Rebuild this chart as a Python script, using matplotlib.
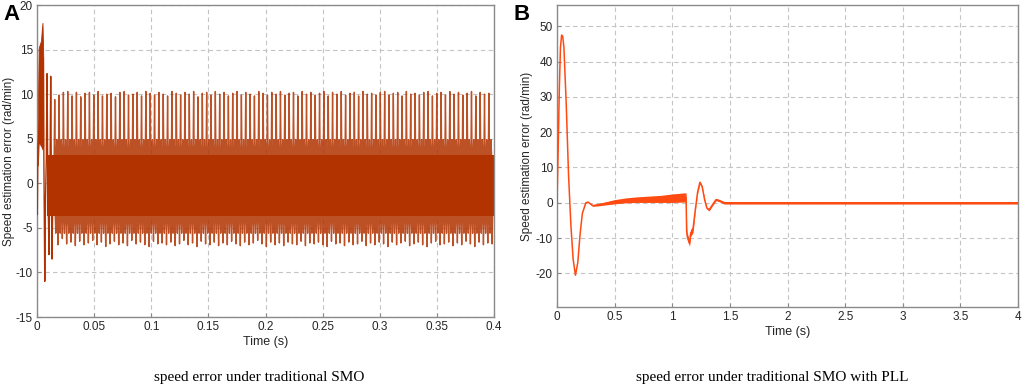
import numpy as np
import matplotlib
matplotlib.use("Agg")
import matplotlib.pyplot as plt

plt.rcParams["axes.unicode_minus"] = False

# ---- panel A: traditional SMO (speed estimation error, rad/min) ----
# start-up burst (dense band between these limits)
burst_t = [0.0008, 0.0015, 0.0025, 0.0035, 0.0042, 0.0048, 0.0055]
burst_hi = [9.0, 15.2, 15.6, 16.0, 17.2, 18.0, 14.0]
burst_lo = [2.0, 4.6, 4.4, 4.2, 4.0, 3.8, 4.2]

# isolated start-up spikes
early_t = [0.0, 0.0003, 0.0008, 0.0055, 0.0060, 0.0068, 0.0074, 0.0082, 0.0088, 0.0094,
           0.0100, 0.0105, 0.0110, 0.0115, 0.0120, 0.0125, 0.0131, 0.0137, 0.0145]
early_v = [0.0, -3.5, 4.0, 14.0, 3.0, -11.0, -2.0, 3.0, 12.3, 1.0,
           -4.0, -8.0, -2.0, 3.0, 12.0, 2.0, -8.5, -3.0, 3.0]

# steady oscillation: dense core band and periodic spikes
core_hi = 3.2
core_lo = -3.7
mid_hi = 4.9
mid_lo = -5.6
spike_start = 0.0155
spike_period = 0.0038

upper_peaks = [
    9.4, 9.9, 10.2, 10.3, 9.8, 10.2, 9.7, 10.1, 10.2, 9.9, 10.3, 9.8, 10.0,
    10.1, 9.7, 10.2, 10.3, 9.9, 10.0, 10.2, 9.8, 10.3, 10.1, 9.9, 10.2, 10.0,
    9.8, 10.3, 10.1, 9.9, 10.2, 10.0, 10.3, 9.7, 10.1, 10.2, 9.9, 10.3, 10.0,
    10.2, 9.8, 10.1, 10.3, 9.9, 10.2, 10.0, 9.8, 10.3, 10.1, 9.9, 10.2, 10.0,
    10.3, 9.9, 10.1, 10.2, 9.8, 10.3, 10.0, 10.2, 9.9, 10.1, 10.3, 9.8, 10.2,
    10.0, 10.3, 9.9, 10.1, 10.2, 9.8, 10.3, 10.0, 10.1, 9.9, 10.2, 10.3, 9.9,
    10.1, 10.2, 9.8, 10.3, 10.0, 10.1, 9.9, 10.2, 10.3, 9.8, 10.1, 10.2, 9.9,
    10.3, 10.0, 10.2, 9.9, 10.1, 10.3, 9.8, 10.2, 10.0, 10.1,
]
lower_peaks = [
    -6.9, -6.2, -6.8, -6.6, -7.0, -6.5, -6.9, -6.7, -6.4, -6.9, -6.6, -7.1, -6.8,
    -6.5, -6.9, -6.7, -7.0, -6.4, -6.8, -6.6, -6.9, -7.1, -6.5, -6.8, -6.7, -6.9,
    -6.6, -7.0, -6.8, -6.4, -6.9, -6.7, -7.1, -6.5, -6.8, -6.9, -6.6, -7.0, -6.7,
    -6.9, -6.5, -6.8, -7.0, -6.6, -6.9, -6.7, -6.4, -6.8, -7.1, -6.6, -6.9, -6.7,
    -7.0, -6.6, -6.8, -6.9, -6.5, -7.0, -6.7, -6.8, -6.6, -6.9, -7.1, -6.5, -6.8,
    -6.7, -7.0, -6.6, -6.9, -6.8, -6.5, -7.0, -6.7, -6.9, -6.6, -6.8, -7.1, -6.6,
    -6.9, -6.7, -6.5, -7.0, -6.8, -6.6, -6.9, -7.1, -6.7, -6.5, -6.9, -6.8, -6.6,
    -7.0, -6.7, -6.9, -6.5, -6.8, -7.1, -6.6, -6.9, -6.7, -6.8,
]

smo_xticks = [0, 0.05, 0.1, 0.15, 0.2, 0.25, 0.3, 0.35, 0.4]
smo_xlabels = ["0", "0.05", "0.1", "0.15", "0.2", "0.25", "0.3", "0.35", "0.4"]
smo_yticks = [-15, -10, -5, 0, 5, 10, 15, 20]

# ---- panel B: traditional SMO with PLL ----
pll_t = [0.0, 0.01, 0.02, 0.03, 0.04, 0.05, 0.06, 0.08, 0.10, 0.12, 0.14, 0.16,
         0.18, 0.20, 0.22, 0.25, 0.27, 0.31, 0.35, 0.40, 0.50, 0.60, 0.70, 0.80,
         0.90, 1.00, 1.10, 1.12, 1.125, 1.13, 1.15, 1.16, 1.18, 1.20, 1.22, 1.24,
         1.26, 1.28, 1.30, 1.32, 1.35, 1.38, 1.41, 1.45, 1.50, 2.0, 2.5, 3.0, 3.5, 4.0]
pll_v = [0.0, 15.0, 32.0, 44.0, 47.5, 47.0, 44.0, 28.0, 8.0, -6.0, -16.0, -20.5,
         -17.0, -9.0, -3.0, 0.0, 0.2, -0.8, -0.6, -0.3, 0.3, 0.7, 0.9, 1.0,
         1.1, 1.3, 1.5, 1.5, -8.0, -9.5, -11.5, -8.5, -7.5, -2.0, 3.0, 5.8,
         4.5, 1.0, -1.5, -2.0, -0.5, 0.9, 0.6, 0.0, 0.0, 0.0, 0.0, 0.0, 0.0, 0.0]
pll_noise = [0.0, 0.0, 0.0, 0.0, 0.0, 0.0, 0.0, 0.0, 0.0, 0.0, 0.0, 0.0,
             0.0, 0.0, 0.0, 0.1, 0.1, 0.2, 0.3, 0.4, 0.6, 0.7, 0.8, 0.9,
             1.0, 1.2, 1.3, 1.3, 1.0, 1.0, 0.8, 1.0, 1.0, 0.3, 0.3, 0.4,
             0.3, 0.3, 0.3, 0.3, 0.3, 0.3, 0.3, 0.35, 0.35, 0.35, 0.35, 0.35, 0.35, 0.35]

pll_xticks = [0, 0.5, 1, 1.5, 2, 2.5, 3, 3.5, 4]
pll_xlabels = ["0", "0.5", "1", "1.5", "2", "2.5", "3", "3.5", "4"]
pll_yticks = [-20, -10, 0, 10, 20, 30, 40, 50]

smo_color = "#B23200"
pll_color = "#FF4A12"
tick_font = "Liberation Sans"

fig = plt.figure(figsize=(10.24, 3.89), dpi=100)
ax1 = fig.add_axes([37 / 1024, 72 / 389, 457 / 1024, 312 / 389])
ax2 = fig.add_axes([557 / 1024, 82 / 389, 461 / 1024, 302 / 389])


def style_axes(ax, xticks, xlabels, yticks, ylab_x):
    ax.set_xticks(xticks)
    ax.set_xticklabels(xlabels)
    ax.set_yticks(yticks)
    ax.grid(True, color="#c4c4c4", linestyle=(0, (4, 3)), linewidth=0.8)
    ax.set_axisbelow(True)
    for s in ax.spines.values():
        s.set_color("#8a8a8a")
        s.set_linewidth(1.0)
    ax.tick_params(direction="in", length=3, color="#8a8a8a", labelsize=8.5,
                   labelcolor="#262626", pad=3)
    for lab in ax.get_xticklabels() + ax.get_yticklabels():
        lab.set_fontfamily(tick_font)
    ax.set_xlabel("Time (s)", fontsize=9, family=tick_font, color="#262626", labelpad=2)
    ax.set_ylabel("Speed estimation error (rad/min)", fontsize=8.5, family=tick_font,
                  color="#262626", va="center")
    ax.yaxis.set_label_coords(ylab_x, 0.5)


# panel A
n_spk = len(upper_peaks)
spike_t = spike_start + spike_period * np.arange(n_spk)
ax1.fill_between([0.009, 0.4], [core_lo, core_lo], [core_hi, core_hi],
                 color=smo_color, linewidth=0, zorder=2)
ax1.fill_between(burst_t, burst_lo, burst_hi, color=smo_color, linewidth=0.6,
                 edgecolor=smo_color, zorder=2)
ax1.plot(early_t, early_v, color=smo_color, linewidth=1.0, zorder=3)

w = 0.0005
tt, vv = [], []
for t0, hi, lo in zip(spike_t, upper_peaks, lower_peaks):
    q = spike_period / 4
    tt += [t0 - w, t0, t0 + w,
           t0 + q - w, t0 + q, t0 + q + w,
           t0 + 2 * q - w, t0 + 2 * q, t0 + 2 * q + w,
           t0 + 3 * q - w, t0 + 3 * q, t0 + 3 * q + w]
    vv += [core_hi, hi, core_hi,
           core_lo, mid_lo, core_lo,
           core_hi, mid_hi, core_hi,
           core_lo, lo, core_lo]
ax1.plot(tt, vv, color=smo_color, linewidth=1.0, alpha=0.85, zorder=3)
ax1.set_xlim(0, 0.4)
ax1.set_ylim(-15, 20)
style_axes(ax1, smo_xticks, smo_xlabels, smo_yticks, -27.5 / 457)

# panel B
pll_t_arr = np.array(pll_t)
pll_v_arr = np.array(pll_v)
pll_n_arr = np.array(pll_noise)
ax2.fill_between(pll_t_arr, pll_v_arr - pll_n_arr, pll_v_arr + pll_n_arr,
                 color=pll_color, linewidth=0, zorder=2)
ax2.plot(pll_t_arr, pll_v_arr, color=pll_color, linewidth=1.1, zorder=3)
ax2.set_xlim(0, 4)
ax2.set_ylim(-29.5, 56)
style_axes(ax2, pll_xticks, pll_xlabels, pll_yticks, -30 / 461)

fig.text(11 / 1024, 1 - 14 / 389, "A", fontsize=16, fontweight="bold",
         family=tick_font, ha="center", va="center")
fig.text(522 / 1024, 1 - 14 / 389, "B", fontsize=16, fontweight="bold",
         family=tick_font, ha="center", va="center")

fig.text(259 / 1024, 11 / 389, "speed error under traditional SMO",
         fontsize=11, family="Liberation Serif", ha="center", va="center")
fig.text(772 / 1024, 11 / 389, "speed error under traditional SMO with PLL",
         fontsize=11, family="Liberation Serif", ha="center", va="center")

fig.savefig("out.png", dpi=100)
plt.close(fig)
